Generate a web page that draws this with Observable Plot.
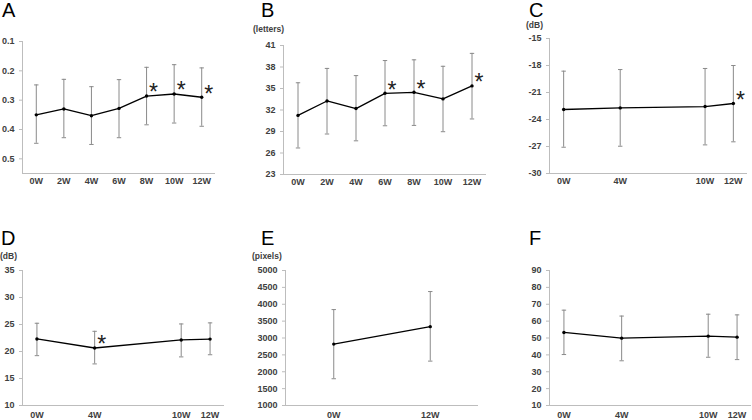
<!DOCTYPE html>
<html>
<head>
<meta charset="utf-8">
<script src="https://cdn.jsdelivr.net/npm/d3@7"></script>
<script src="https://cdn.jsdelivr.net/npm/@observablehq/plot@0.6"></script>
<style>
  html, body { margin: 0; padding: 0; background: #fff; }
  #wrap { position: relative; width: 752px; height: 420px; overflow: hidden; background: #fff;
          font-family: "Liberation Sans", Arial, sans-serif; }
  .pane { position: absolute; }
  .letter { position: absolute; font-size: 20px; line-height: 1; color: #000; }
  .unit { position: absolute; font-size: 8.5px; font-weight: bold; color: #404040; line-height: 1; white-space: nowrap; }
</style>
</head>
<body>
<div id="wrap"></div>
<script>
// ---------- data ----------
const weeks7 = ["0W", "2W", "4W", "6W", "8W", "10W", "12W"];
const weeks2 = ["0W", "12W"];
const weekNums4 = [0, 4, 10, 12];

// A: visual acuity (logMAR)
const aMean = [0.35, 0.33, 0.353, 0.328, 0.286, 0.279, 0.29];
const aLow  = [0.248, 0.229, 0.254, 0.23, 0.188, 0.179, 0.19];
const aHigh = [0.447, 0.428, 0.451, 0.428, 0.384, 0.378, 0.389];
const aSig  = [false, false, false, false, true, true, true];
const aTicks = [0.1, 0.2, 0.3, 0.4, 0.5];

// B: letters
const bMean = [31.25, 33.26, 32.2, 34.33, 34.47, 33.55, 35.36];
const bLow  = [26.7, 28.65, 27.7, 29.8, 29.85, 28.97, 30.75];
const bHigh = [35.8, 37.8, 36.8, 38.9, 39.0, 38.1, 39.9];
const bSig  = [false, false, false, true, true, false, true];
const bTicks = [23, 26, 29, 32, 35, 38, 41];

// C: dB
const cMean = [-22.89, -22.71, -22.56, -22.22];
const cLow  = [-27.08, -26.97, -26.82, -26.48];
const cHigh = [-18.63, -18.45, -18.33, -18.0];
const cSig  = [false, false, false, true];
const cTicks = [-30, -27, -24, -21, -18, -15];

// D: dB
const dMean = [22.32, 20.65, 22.14, 22.3];
const dLow  = [19.23, 17.7, 19.0, 19.4];
const dHigh = [25.23, 23.74, 25.1, 25.3];
const dSig  = [false, true, false, false];
const dTicks = [10, 15, 20, 25, 30, 35];

// E: pixels
const eMean = [2820, 3337];
const eLow  = [1793, 2315];
const eHigh = [3842, 4376];
const eSig  = [false, false];
const eTicks = [1000, 1500, 2000, 2500, 3000, 3500, 4000, 4500, 5000];

// F
const fMean = [53.3, 49.9, 51.1, 50.5];
const fLow  = [40.2, 36.5, 38.6, 37.2];
const fHigh = [66.5, 63.0, 64.1, 63.7];
const fSig  = [false, false, false, false];
const fTicks = [10, 20, 30, 40, 50, 60, 70, 80, 90];

// ---------- helpers ----------
const rows = (xs, mean, lo, hi, sig) => xs.map((x, i) => ({x, mean: mean[i], lo: lo[i], hi: hi[i], sig: sig[i]}));
const cap = { draw(ctx) { ctx.moveTo(-2.2, 0); ctx.lineTo(2.2, 0); } };
const axisStroke = "#bdbdbd";
const textFill = "#404040";
const barStroke = "#8a8a8a";

// cfg.cats: category labels (evenly spaced, index positions) or null for week-number positions
function panel(cfg) {
  const cats = cfg.cats;
  const xs = cats ? cats.map((_, i) => i) : weekNums4;
  const data = rows(xs, cfg.mean, cfg.lo, cfg.hi, cfg.sig);
  const xDomain = cats ? [-0.5, cats.length - 0.5] : [-1, 13];
  const yBottom = cfg.reverse ? cfg.yDomain[1] : cfg.yDomain[0];
  return Plot.plot({
    width: cfg.width, height: cfg.height,
    marginTop: cfg.mt, marginRight: cfg.mr, marginBottom: cfg.mb, marginLeft: cfg.ml,
    style: { fontFamily: '"Liberation Sans", Arial, sans-serif', fontSize: "9px", fontWeight: "bold", background: "transparent", overflow: "visible" },
    x: { type: "linear", domain: xDomain },
    y: { domain: cfg.yDomain, reverse: !!cfg.reverse },
    marks: [
      Plot.ruleX([xDomain[0]], { stroke: axisStroke, strokeWidth: 1 }),
      Plot.ruleY([yBottom], { stroke: axisStroke, strokeWidth: 1 }),
      Plot.axisY({ ticks: cfg.yTicks, tickFormat: cfg.yFormat || (d => String(d)), tickSize: 3, tickPadding: 5,
                   stroke: axisStroke, fill: textFill, label: null }),
      Plot.axisX({ ticks: xs, tickFormat: cats ? (i => cats[i]) : (d => d + "W"), tickSize: 0, tickPadding: cfg.xPad,
                   stroke: axisStroke, fill: textFill, label: null }),
      Plot.ruleX(data, { x: "x", y1: "lo", y2: "hi", stroke: barStroke, strokeWidth: 1 }),
      Plot.dot(data, { x: "x", y: "lo", symbol: cap, stroke: barStroke, fill: "none", strokeWidth: 1 }),
      Plot.dot(data, { x: "x", y: "hi", symbol: cap, stroke: barStroke, fill: "none", strokeWidth: 1 }),
      Plot.line(data, { x: "x", y: "mean", stroke: "#000", strokeWidth: 1.3 }),
      Plot.dot(data, { x: "x", y: "mean", r: 1.7, fill: "#000" }),
      Plot.text(data.filter(d => d.sig), { x: "x", y: "mean", text: () => "*", dx: 7, dy: -3,
                 fontSize: 23, fontWeight: "normal", fill: "#222", lineAnchor: "middle" })
    ]
  });
}

const wrap = document.getElementById("wrap");
function place(node, left, top) {
  const d = document.createElement("div");
  d.className = "pane";
  d.style.left = left + "px"; d.style.top = top + "px";
  d.appendChild(node);
  wrap.appendChild(d);
}
function label(cls, text, left, top) {
  const d = document.createElement("div");
  d.className = cls; d.textContent = text;
  d.style.left = left + "px"; d.style.top = top + "px";
  wrap.appendChild(d);
}

// ---------- panels ----------
place(panel({ cats: weeks7, mean: aMean, lo: aLow, hi: aHigh, sig: aSig, width: 250, height: 200,
  mt: 41, mr: 35, mb: 27, ml: 22, yDomain: [0.1, 0.55], reverse: true, yTicks: aTicks, yFormat: d3.format(".1f"), xPad: 4 }), 0, 0);

place(panel({ cats: weeks7, mean: bMean, lo: bLow, hi: bHigh, sig: bSig, width: 250, height: 200,
  mt: 45, mr: 14, mb: 26, ml: 33, yDomain: [23, 41], yTicks: bTicks, xPad: 4 }), 250, 0);

place(panel({ cats: null, mean: cMean, lo: cLow, hi: cHigh, sig: cSig, width: 252, height: 200,
  mt: 38, mr: 5, mb: 27, ml: 49, yDomain: [-30, -15], yTicks: cTicks, xPad: 4 }), 500, 0);

place(panel({ cats: null, mean: dMean, lo: dLow, hi: dHigh, sig: dSig, width: 250, height: 210,
  mt: 60, mr: 26, mb: 15, ml: 22, yDomain: [10, 35], yTicks: dTicks, xPad: 6 }), 0, 210);

place(panel({ cats: weeks2, mean: eMean, lo: eLow, hi: eHigh, sig: eSig, width: 250, height: 210,
  mt: 60, mr: 22, mb: 15, ml: 35, yDomain: [1000, 5000], yTicks: eTicks, xPad: 6 }), 250, 210);

place(panel({ cats: null, mean: fMean, lo: fLow, hi: fHigh, sig: fSig, width: 252, height: 210,
  mt: 60, mr: 1, mb: 15, ml: 49, yDomain: [10, 90], yTicks: fTicks, xPad: 6 }), 500, 210);

// ---------- panel letters and units ----------
label("letter", "A", 2, 0);
label("letter", "B", 261, 0);
label("letter", "C", 529, 0);
label("letter", "D", 1, 228);
label("letter", "E", 261, 228);
label("letter", "F", 529, 228);
label("unit", "(letters)", 253, 25);
label("unit", "(dB)", 526, 21);
label("unit", "(dB)", 0, 252);
label("unit", "(pixels)", 252, 252);
</script>
</body>
</html>
